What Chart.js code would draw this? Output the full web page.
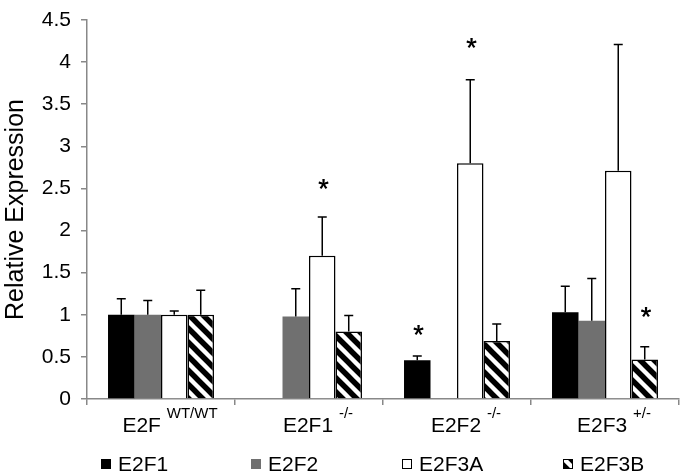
<!DOCTYPE html>
<html><head><meta charset="utf-8">
<script src="https://cdn.jsdelivr.net/npm/chart.js@4.4.0/dist/chart.umd.min.js"></script>
<style>html,body{margin:0;padding:0;background:#fff;}#wrap{width:680px;height:472px;}</style>
</head><body><div id="wrap"><canvas id="c" width="680" height="472"></canvas></div>
<script>
// ---- data ----
const categories = ['E2F', 'E2F1', 'E2F2', 'E2F3'];
const categorySup = ['WT/WT', '-/-', '-/-', '+/-'];
const seriesNames = ['E2F1', 'E2F2', 'E2F3A', 'E2F3B'];
const e2f1Values  = [1.00, null, 0.46, 1.03];
const e2f2Values  = [1.00, 0.98, null, 0.93];
const e2f3aValues = [1.00, 1.70, 2.80, 2.71];
const e2f3bValues = [1.00, 0.80, 0.69, 0.47];
const e2f1Err  = [0.19, null, 0.05, 0.31];
const e2f2Err  = [0.17, 0.33, null, 0.50];
const e2f3aErr = [0.045, 0.46, 0.99, 1.50];
const e2f3bErr = [0.29, 0.19, 0.20, 0.15];
const e2f1Stars  = [null, null, 0.83, null];
const e2f2Stars  = [null, null, null, null];
const e2f3aStars = [null, 2.56, 4.24, null];
const e2f3bStars = [null, null, null, 1.04];
const yMin = 0, yMax = 4.5, yStep = 0.5;

const FONT = '"Liberation Sans", Arial, sans-serif';
const canvas = document.getElementById('c');
const ctx = canvas.getContext('2d');

function makeHatch() {
  const s = 14;
  const c = document.createElement('canvas'); c.width = s; c.height = s;
  const g = c.getContext('2d');
  g.fillStyle = '#fff'; g.fillRect(0, 0, s, s);
  g.strokeStyle = '#000'; g.lineWidth = 5.5;
  g.beginPath();
  for (const k of [-s, 0, s]) { g.moveTo(k - 3, -3); g.lineTo(k + s + 3, s + 3); }
  g.stroke();
  return ctx.createPattern(c, 'repeat');
}
const hatch = makeHatch();

const errs = [e2f1Err, e2f2Err, e2f3aErr, e2f3bErr];
const stars = [e2f1Stars, e2f2Stars, e2f3aStars, e2f3bStars];

const errPlugin = {
  id: 'errbars',
  afterDatasetsDraw(chart) {
    const c = chart.ctx, y = chart.scales.y;
    c.save();
    c.strokeStyle = '#000'; c.lineWidth = 1.5;
    chart.data.datasets.forEach((ds, i) => {
      const meta = chart.getDatasetMeta(i);
      meta.data.forEach((bar, j) => {
        const v = ds.data[j], e = errs[i][j];
        if (v == null || e == null) return;
        const yb = y.getPixelForValue(v), yt = y.getPixelForValue(v + e);
        c.beginPath();
        c.moveTo(bar.x, yb); c.lineTo(bar.x, yt);
        c.moveTo(bar.x - 4.5, yt); c.lineTo(bar.x + 4.5, yt);
        c.stroke();
      });
    });
    c.fillStyle = '#000';
    c.font = '27px ' + FONT;
    c.textAlign = 'center'; c.textBaseline = 'alphabetic';
    chart.data.datasets.forEach((ds, i) => {
      const meta = chart.getDatasetMeta(i);
      const xs = chart.scales.x;
      stars[i].forEach((s, j) => {
        if (s == null) return;
        const bx = meta.data[j] ? meta.data[j].x : xs.getPixelForValue(j);
        c.fillText('*', bx + 1, y.getPixelForValue(s) + 15);
        c.fillText('*', bx + 1.5, y.getPixelForValue(s) + 15);
      });
    });
    c.restore();
  }
};

const labelPlugin = {
  id: 'xlabels',
  afterDraw(chart) {
    const c = chart.ctx, x = chart.scales.x;
    c.save();
    c.fillStyle = '#000'; c.textBaseline = 'alphabetic'; c.textAlign = 'left';
    categories.forEach((cat, i) => {
      const cx = x.getPixelForValue(i) + 9;
      c.font = '21px ' + FONT;
      const w1 = c.measureText(cat + ' ').width;
      c.font = '15px ' + FONT;
      const w2 = c.measureText(categorySup[i]).width;
      const start = cx - (w1 + w2) / 2;
      c.font = '21px ' + FONT;
      c.fillText(cat, start, 432);
      c.font = '15px ' + FONT;
      c.fillText(categorySup[i], start + w1, 418);
    });
    c.restore();
  }
};

const legendX = [101, 251, 402, 563];
const legendPlugin = {
  id: 'customLegend',
  afterDraw(chart) {
    const c = chart.ctx;
    c.save();
    chart.data.datasets.forEach((ds, i) => {
      const lx = legendX[i], ly = 459;
      c.fillStyle = ds.backgroundColor;
      c.fillRect(lx, ly, 10, 10);
      if (ds.borderWidth) {
        c.strokeStyle = '#000'; c.lineWidth = 1;
        c.strokeRect(lx + 0.5, ly + 0.5, 9, 9);
      }
      c.fillStyle = '#000';
      c.font = '21px ' + FONT;
      c.textAlign = 'left'; c.textBaseline = 'alphabetic';
      c.fillText(ds.label, lx + 17, 471);
    });
    c.restore();
  }
};

const axisColor = '#888888';
new Chart(ctx, {
  type: 'bar',
  data: {
    labels: categories,
    datasets: [
      { label: seriesNames[0], data: e2f1Values, backgroundColor: '#000000', borderWidth: 0 },
      { label: seriesNames[1], data: e2f2Values, backgroundColor: '#707070', borderWidth: 0 },
      { label: seriesNames[2], data: e2f3aValues, backgroundColor: '#ffffff', borderColor: '#000000', borderWidth: 1.5 },
      { label: seriesNames[3], data: e2f3bValues, backgroundColor: hatch, borderColor: '#000000', borderWidth: 1.5 }
    ]
  },
  options: {
    responsive: false, animation: false, devicePixelRatio: 1,
    categoryPercentage: 0.716, barPercentage: 1,
    layout: { padding: { top: 0, right: 1, bottom: 0, left: 0 } },
    plugins: { legend: { display: false }, tooltip: { enabled: false } },
    scales: {
      x: {
        offset: true,
        grid: { offset: true, drawOnChartArea: false, drawTicks: true, tickLength: 6, color: axisColor, lineWidth: 1.5 },
        border: { color: axisColor, width: 1.5 },
        ticks: { display: false },
        afterFit(s) { s.height = 73; }
      },
      y: {
        min: yMin, max: yMax,
        ticks: {
          stepSize: yStep, color: '#000', padding: 10,
          font: { family: FONT, size: 21, lineHeight: 0.95 },
          callback: (v) => String(Math.round(v * 10) / 10)
        },
        grid: { drawOnChartArea: false, tickLength: 6, color: axisColor, lineWidth: 1.5 },
        border: { color: axisColor, width: 1.5 },
        title: { display: true, text: 'Relative Expression', color: '#000', font: { family: FONT, size: 25 }, padding: { top: 1, bottom: 0 } },
        afterFit(s) { s.width = 87; }
      }
    }
  },
  plugins: [errPlugin, labelPlugin, legendPlugin]
});
</script>
</body></html>
